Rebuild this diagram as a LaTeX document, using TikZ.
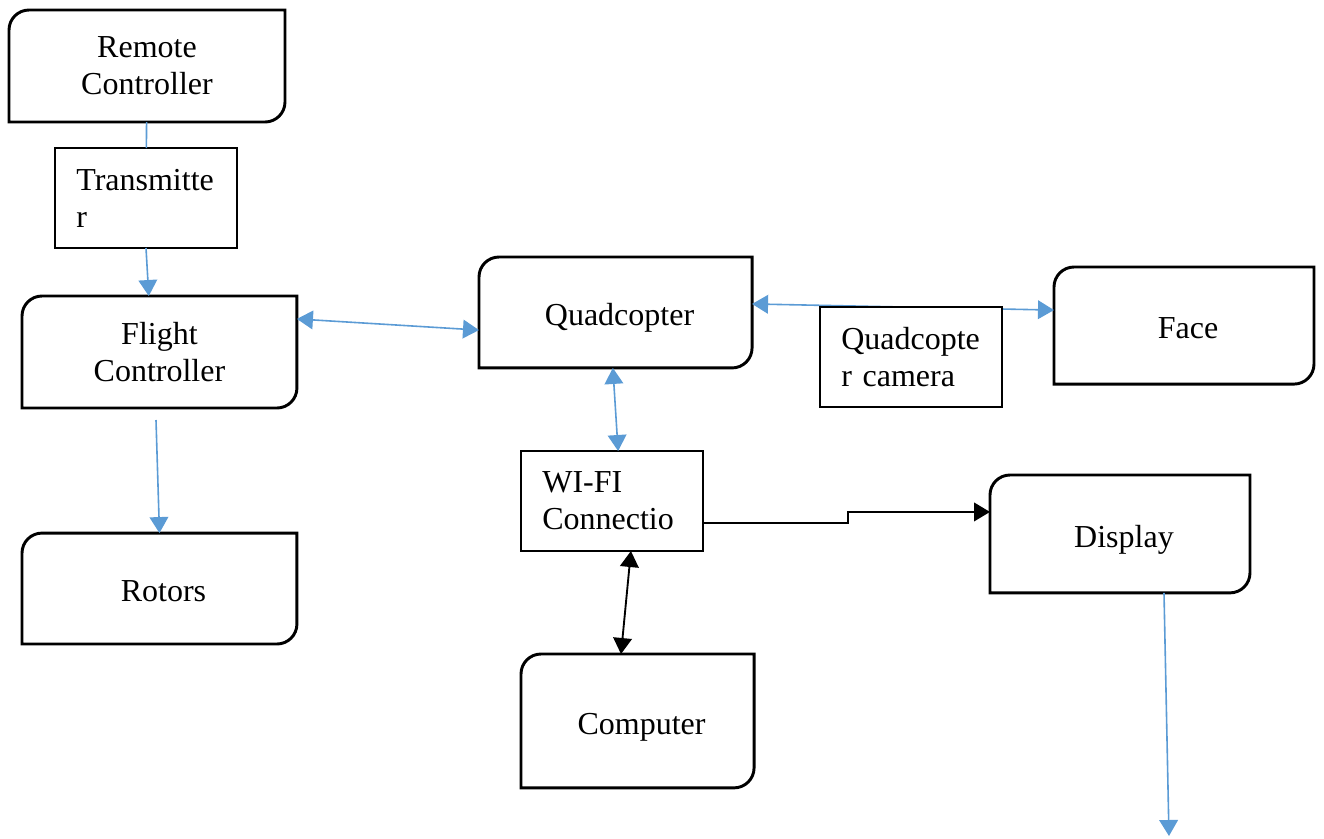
\documentclass[tikz,border=0pt]{standalone}
\usepackage{fontspec}
\setmainfont{Liberation Serif}
\usetikzlibrary{positioning, calc, arrows.meta}
\definecolor{linkblue}{RGB}{91,155,213}

\begin{document}
\begin{tikzpicture}[
        x=0.375pt, y=0.375pt,
        every node/.style={
          font=\fontsize{12}{13.8}\selectfont,
          outer sep=0pt,
          inner sep=0pt
        },
        rbox/.style 2 args={
          anchor=north west,
          minimum width=#1,
          minimum height=#2,
          align=center
        },
        oneline/.style={
          text height=13pt,
          text depth=3pt,
          execute at begin node={\hspace*{3pt}}
        },
        tbox/.style={
          draw,
          fill=white,
          line width=0.75pt,
          anchor=north west,
          text width=52.25pt,
          inner xsep=8pt,
          minimum height=37.5pt,
          align=left
        },
        outline/.style={
          draw,
          line width=1.1pt
        },
        link/.style={
          draw=linkblue,
          line width=0.6pt
        },
        wire/.style={
          draw=black,
          line width=0.7pt
        },
        >={Triangle[length=6pt,width=7pt]}
      ]
        \useasboundingbox (0,0) rectangle (1324,-838);

        % rounded blocks
        \node[rbox={103.5pt}{42pt}] (rc) at (9,-10) {Remote\\Controller};
        \node[rbox={103.1pt}{42pt}] (fc) at (22,-296) {Flight\\Controller};
        \node[rbox={103.1pt}{41.6pt}, oneline, below=46.9pt of fc] (rot) {Rotors};
        \node[rbox={102.4pt}{41.6pt}, oneline] (qc) at (479,-257) {Quadcopter};
        \node[rbox={97.5pt}{43.9pt}, oneline] (face) at (1054,-267) {Face};
        \node[rbox={97.5pt}{44.2pt}, oneline] (disp) at (990,-475) {Display};
        \node[rbox={87.4pt}{50.2pt}, oneline] (comp) at (521,-654) {Computer};

        \foreach \n in {rc,fc,rot,qc,face,disp,comp}
          \draw[outline] (\n.south west) -- ([yshift=-7.5pt]\n.north west)
            arc[start angle=180, end angle=90, radius=7.5pt] -- (\n.north east)
            -- ([yshift=7.5pt]\n.south east)
            arc[start angle=0, end angle=-90, radius=7.5pt] -- cycle;

        % plain boxes
        \node[tbox, below=9.75pt of rc.south west, xshift=17.25pt, anchor=north west] (tx) {Transmitte\\r};
        \node[tbox] (wifi) at (521,-451) {WI-FI\\Connectio};

        % connectors
        \draw[link] (rc) -- (tx);
        \draw[link, ->] (tx.south) -- ([xshift=-4pt]fc.north);
        \draw[link, <->] ([yshift=12.4pt]fc.east) -- ([yshift=-6.6pt]qc.west);
        \draw[link, <->] ([yshift=3.2pt]qc.east) -- ([yshift=5.8pt]face.west);
        \draw[link, <->] ([xshift=-1pt]qc.south) -- ([xshift=2.3pt]wifi.north);
        \draw[link, ->] ([xshift=-1.3pt, yshift=-4.5pt]fc.south) -- (rot.north);

        \node[tbox] (cam) at (820,-307) {Quadcopte\\r camera};

        \draw[wire, ->] ([yshift=-8.25pt]wifi.east) -- ++(145,0) |- ([yshift=8.25pt]disp.west);
        \draw[wire, <->] ([xshift=7.1pt]wifi.south) -- ([xshift=-6.2pt]comp.north);

        \coordinate (out) at (1169,-836);
        \draw[link, ->] ([xshift=16.5pt]disp.south) -- (out);
      \end{tikzpicture}
\end{document}
